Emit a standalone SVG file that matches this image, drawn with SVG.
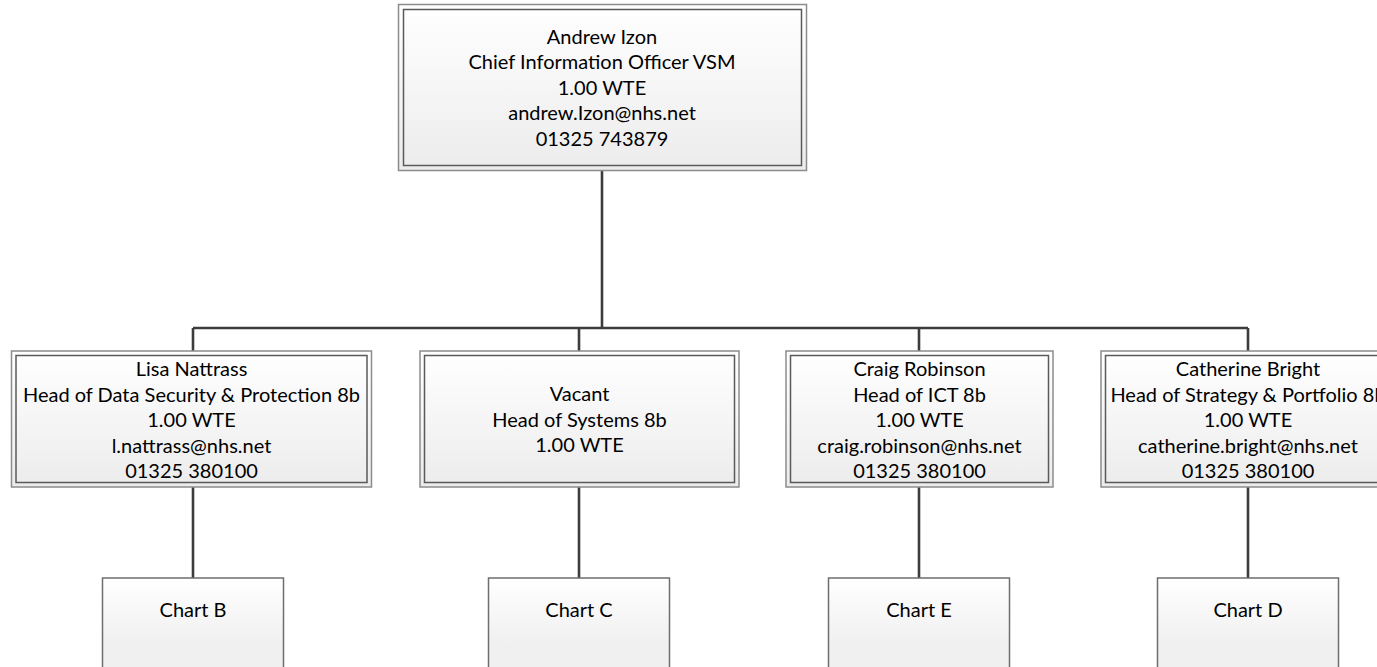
<svg xmlns="http://www.w3.org/2000/svg" width="1377" height="667" viewBox="0 0 1377 667">
<style>
.outer{fill:url(#g);stroke:#8c8c8c;stroke-width:1.5}
.inner{fill:none;stroke:#5a5a5a;stroke-width:1.5}
.chart{fill:url(#g2);stroke:#6e6e6e;stroke-width:1.5}
.conn{fill:none;stroke:#3c3c3c;stroke-width:2.6}
text{font-family:"Lato","Liberation Sans",sans-serif;font-size:20px;fill:#000;text-anchor:middle}
</style>
<defs>
<linearGradient id="g" x1="0" y1="0" x2="0" y2="1"><stop offset="0" stop-color="#ffffff"/><stop offset="1" stop-color="#ececec"/></linearGradient>
<linearGradient id="g2" x1="0" y1="0" x2="0" y2="1"><stop offset="0" stop-color="#ffffff"/><stop offset="0.6" stop-color="#f0f0f0"/><stop offset="1" stop-color="#f0f0f0"/></linearGradient>
</defs>
<g id="connectors">
<path class="conn" d="M602 170V328M193 328H1248M193 328V351M579 328V351M919 328V351M1248 328V351"/>
<path class="conn" d="M193 487V578M579 487V578M919 487V578M1248 487V578"/>
</g>
<g id="n-andrew">
<rect class="outer" x="398.5" y="4.5" width="408" height="166"/>
<rect class="inner" x="403.5" y="9.5" width="398" height="156"/>
<text x="602" y="43.5">Andrew Izon</text>
<text x="602" y="69">Chief Information Officer VSM</text>
<text x="602" y="94.5">1.00 WTE</text>
<text x="602" y="120">andrew.Izon@nhs.net</text>
<text x="602" y="145.5">01325 743879</text>
</g>
<g id="n-lisa">
<rect class="outer" x="11.5" y="351" width="360" height="136"/>
<rect class="inner" x="16" y="355.5" width="351" height="127"/>
<text x="191.5" y="376">Lisa Nattrass</text>
<text x="191.5" y="401.5">Head of Data Security &amp; Protection 8b</text>
<text x="191.5" y="427">1.00 WTE</text>
<text x="191.5" y="452.5">l.nattrass@nhs.net</text>
<text x="191.5" y="478">01325 380100</text>
</g>
<g id="n-vacant">
<rect class="outer" x="420" y="351" width="319" height="136"/>
<rect class="inner" x="424.5" y="355.5" width="310" height="127"/>
<text x="579.5" y="401">Vacant</text>
<text x="579.5" y="426.5">Head of Systems 8b</text>
<text x="579.5" y="452">1.00 WTE</text>
</g>
<g id="n-craig">
<rect class="outer" x="786" y="351" width="267" height="136"/>
<rect class="inner" x="790.5" y="355.5" width="258" height="127"/>
<text x="919.5" y="376">Craig Robinson</text>
<text x="919.5" y="401.5">Head of ICT 8b</text>
<text x="919.5" y="427">1.00 WTE</text>
<text x="919.5" y="452.5">craig.robinson@nhs.net</text>
<text x="919.5" y="478">01325 380100</text>
</g>
<g id="n-catherine">
<rect class="outer" x="1101" y="351" width="294" height="136"/>
<rect class="inner" x="1105.5" y="355.5" width="285" height="127"/>
<text x="1248" y="376">Catherine Bright</text>
<text x="1248" y="401.5">Head of Strategy &amp; Portfolio 8b</text>
<text x="1248" y="427">1.00 WTE</text>
<text x="1248" y="452.5">catherine.bright@nhs.net</text>
<text x="1248" y="478">01325 380100</text>
</g>
<g id="n-chartB">
<rect class="chart" x="102.5" y="578" width="181" height="110"/>
<text x="193" y="617">Chart B</text>
</g>
<g id="n-chartC">
<rect class="chart" x="488.5" y="578" width="181" height="110"/>
<text x="579" y="617">Chart C</text>
</g>
<g id="n-chartE">
<rect class="chart" x="828.5" y="578" width="181" height="110"/>
<text x="919" y="617">Chart E</text>
</g>
<g id="n-chartD">
<rect class="chart" x="1157.5" y="578" width="181" height="110"/>
<text x="1248" y="617">Chart D</text>
</g>
</svg>
